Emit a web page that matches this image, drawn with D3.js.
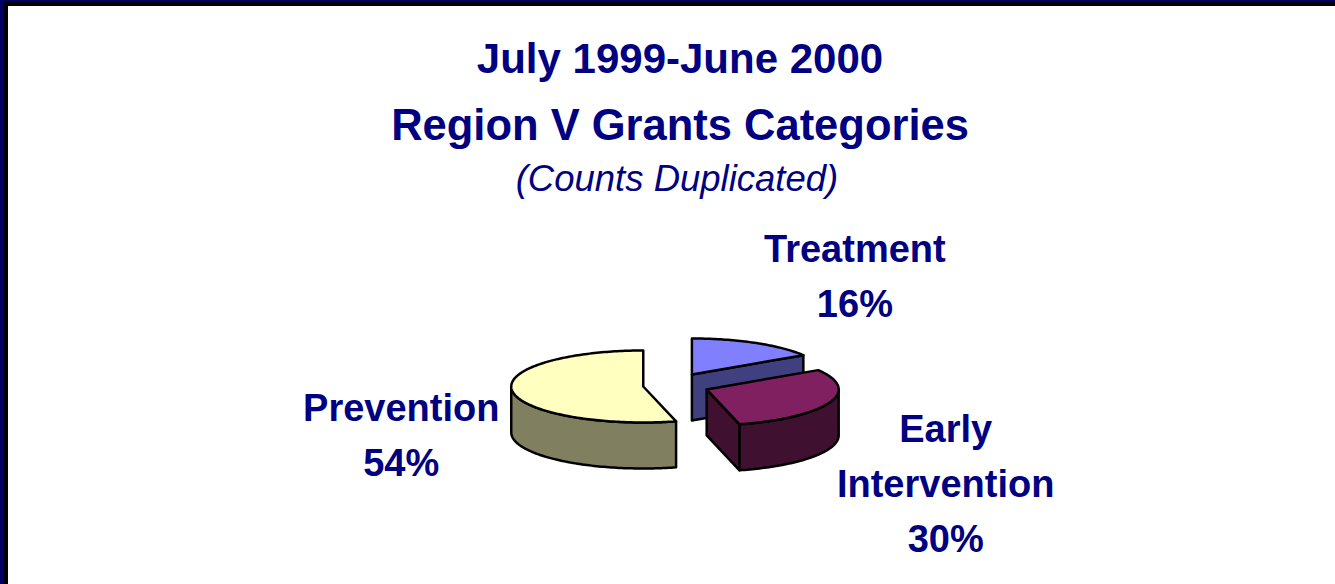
<!DOCTYPE html>
<html>
<head>
<meta charset="utf-8">
<script src="https://cdn.jsdelivr.net/npm/d3@7"></script>
<style>
  body { margin: 0; background: #fff; }
  svg { display: block; font-family: Arial, "Liberation Sans", sans-serif; }
</style>
</head>
<body>
<div id="chart"></div>
<script>
// Chart data
const categories = ['Treatment', 'Early Intervention', 'Prevention'];
const shares = [16, 30, 54];
const titleLines = ['July 1999-June 2000', 'Region V Grants Categories'];
const subtitle = '(Counts Duplicated)';

const topColors = ['#8080ff', '#802060', '#ffffc0'];
const sideColors = ['#404080', '#401030', '#808060'];

const width = 1335, height = 584;
const navy = '#000080';

const svg = d3.select('#chart')
    .append('svg')
    .attr('width', width)
    .attr('height', height);

// slide frame (only top and left edges show in the crop)
svg.append('rect').attr('x', 0).attr('y', 0).attr('width', width).attr('height', 6).attr('fill', '#000');
svg.append('rect').attr('x', 0).attr('y', 0).attr('width', 8).attr('height', height).attr('fill', '#000');
svg.append('rect').attr('x', 0).attr('y', 0).attr('width', width).attr('height', 2).attr('fill', '#000066');
svg.append('rect').attr('x', 0).attr('y', 0).attr('width', 4).attr('height', height).attr('fill', '#000066');

// Titles
svg.selectAll('text.title')
    .data(titleLines)
    .enter()
    .append('text')
    .attr('class', 'title')
    .attr('x', 680)
    .attr('y', (d, i) => 73 + i * 67)
    .attr('text-anchor', 'middle')
    .attr('fill', navy)
    .style('font-size', (d, i) => i === 0 ? '42px' : '43.5px')
    .style('font-weight', 'bold')
    .text(d => d);

svg.append('text')
    .attr('x', 677)
    .attr('y', 191)
    .attr('text-anchor', 'middle')
    .attr('fill', navy)
    .style('font-size', '36.5px')
    .style('font-style', 'italic')
    .text(subtitle);

// 3D pie geometry
const cx = 676, cy = 385;      // pie centre before explosion
const rx = 132, ry = 36;       // ellipse radii of the tilted top face
const depth = 46;              // thickness of the slices
const explodeX = 33, explodeY = 12;

const pie = d3.pie().sort(null).value(d => d.value);
const arcs = pie(categories.map((c, i) => ({ name: c, value: shares[i], i })));

const rim = (o, a, dy = 0) => [o[0] + rx * Math.sin(a), o[1] - ry * Math.cos(a) + dy];
const samples = (a0, a1) => {
    const n = Math.max(2, Math.ceil((a1 - a0) / 0.02));
    return d3.range(n + 1).map(k => a0 + (a1 - a0) * k / n);
};
const line = d3.line();

arcs.forEach(d => {
    const mid = (d.startAngle + d.endAngle) / 2;
    d.origin = [cx + explodeX * Math.sin(mid), cy - explodeY * Math.cos(mid)];
    d.front = -Math.cos(mid);
});

// paint back to front
const ordered = arcs.slice().sort((a, b) => a.front - b.front);

const pieG = svg.append('g')
    .attr('stroke', '#000')
    .attr('stroke-width', 2.5)
    .attr('stroke-linejoin', 'round');

ordered.forEach(d => {
    const o = d.origin, i = d.data.i;
    const g = pieG.append('g');

    // radial walls facing the viewer
    const walls = [];
    if (Math.sin(d.startAngle) < -1e-6) walls.push(d.startAngle);
    if (Math.sin(d.endAngle) > 1e-6) walls.push(d.endAngle);
    walls.forEach(a => {
        const p = rim(o, a);
        g.append('path')
            .attr('d', line([o, p, [p[0], p[1] + depth], [o[0], o[1] + depth]]) + 'Z')
            .attr('fill', sideColors[i]);
    });

    // outer curved wall, front half only
    const w0 = Math.max(d.startAngle, Math.PI / 2);
    const w1 = Math.min(d.endAngle, Math.PI * 1.5);
    if (w0 < w1) {
        const angs = samples(w0, w1);
        const pts = angs.map(a => rim(o, a))
            .concat(angs.slice().reverse().map(a => rim(o, a, depth)));
        g.append('path')
            .attr('d', line(pts) + 'Z')
            .attr('fill', sideColors[i]);
    }

    // top face
    const topPts = [o].concat(samples(d.startAngle, d.endAngle).map(a => rim(o, a)));
    g.append('path')
        .attr('d', line(topPts) + 'Z')
        .attr('fill', topColors[i]);
});

// Labels
const labelNudge = {
    'Treatment': [163, -112],
    'Early Intervention': [239, 53],
    'Prevention': [-242, 34]
};
const labelLines = d => d.data.name === 'Early Intervention'
    ? ['Early', 'Intervention', d.data.value + '%']
    : [d.data.name, d.data.value + '%'];

arcs.forEach(d => {
    const n = labelNudge[d.data.name];
    const lx = d.origin[0] + n[0], ly = d.origin[1] + n[1];
    const lines = labelLines(d);
    svg.append('text')
        .attr('text-anchor', 'middle')
        .attr('fill', navy)
        .style('font-size', '38px')
        .style('font-weight', 'bold')
        .selectAll('tspan')
        .data(lines)
        .enter()
        .append('tspan')
        .attr('x', lx)
        .attr('y', (t, k) => ly + k * 55)
        .text(t => t);
});
</script>
</body>
</html>
